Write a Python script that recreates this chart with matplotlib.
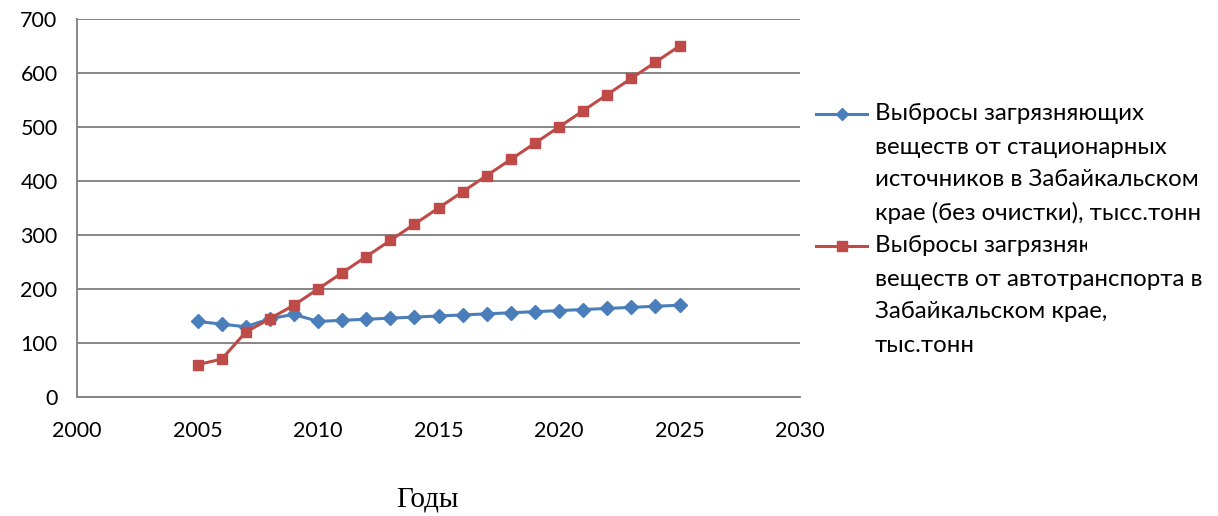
import matplotlib
matplotlib.use("Agg")
import matplotlib.pyplot as plt
from matplotlib.lines import Line2D
from matplotlib.transforms import Bbox

years = list(range(2005, 2026))
stationary = [140, 135, 130, 145, 153, 140, 142, 144, 146, 148, 150,
              152, 154, 156, 158, 160, 162, 164, 166, 168, 170]
transport = [60, 70, 120, 145, 170, 200, 230, 260, 290, 320, 350,
             380, 410, 440, 470, 500, 530, 560, 590, 620, 650]
x_ticks = [2000, 2005, 2010, 2015, 2020, 2025, 2030]
y_ticks = [0, 100, 200, 300, 400, 500, 600, 700]
label_stationary = ["Выбросы загрязняющих", "веществ от стационарных",
                    "источников в Забайкальском", "крае (без очистки), тысс.тонн"]
label_transport = ["Выбросы загрязняющих", "веществ от автотранспорта в",
                   "Забайкальском крае,", "тыс.тонн"]
x_title = "Годы"

BLUE = "#4A7EBB"
RED = "#BE4B48"
GRID = "#868686"
FONT = "Lato"

W, H = 1218, 516
fig = plt.figure(figsize=(W / 100, H / 100), dpi=100)
ax = fig.add_axes([77 / W, 1 - 397 / H, (800 - 77) / W, (397 - 19) / H])

ax.plot(years, stationary, color=BLUE, lw=2.2, marker="D", ms=7,
        markerfacecolor=BLUE, markeredgecolor=BLUE, zorder=3)
ax.plot(years, transport, color=RED, lw=2.2, marker="s", ms=7.5,
        markerfacecolor=RED, markeredgecolor=RED, zorder=4)

ax.set_xlim(2000, 2030)
ax.set_ylim(0, 700)
ax.set_xticks(x_ticks)
ax.set_yticks(y_ticks)
ax.yaxis.grid(True, color=GRID, lw=1.4)
ax.set_axisbelow(True)
for side in ("top", "right"):
    ax.spines[side].set_visible(False)
for side in ("left", "bottom"):
    ax.spines[side].set_color(GRID)
    ax.spines[side].set_linewidth(1.4)
ax.tick_params(axis="both", length=0, labelsize=15.5, colors="black")
ax.tick_params(axis="y", pad=14)
ax.tick_params(axis="x", pad=17)
for lab in ax.get_xticklabels() + ax.get_yticklabels():
    lab.set_fontfamily(FONT)

fig.text(427 / W, 1 - 500 / H, x_title, ha="center", va="center",
         fontsize=21, family="Liberation Serif")

# legend drawn by hand: marker sample lines and wrapped labels
row_y = [114, 147, 180, 213, 246, 279, 312, 345]
fig.add_artist(Line2D([816 / W, 867 / W], [1 - 114 / H] * 2, color=BLUE, lw=2.2,
                      transform=fig.transFigure))
fig.add_artist(Line2D([841.5 / W], [1 - 114 / H], color=BLUE, marker="D", ms=6,
                      transform=fig.transFigure))
fig.add_artist(Line2D([816 / W, 867 / W], [1 - 246 / H] * 2, color=RED, lw=2.2,
                      transform=fig.transFigure))
fig.add_artist(Line2D([841.5 / W], [1 - 246 / H], color=RED, marker="s", ms=7,
                      transform=fig.transFigure))

clip = Bbox.from_extents(0, 0, 1087, H)
for i, line in enumerate(label_stationary + label_transport):
    t = fig.text(875 / W, 1 - row_y[i] / H, line, ha="left", va="center",
                 fontsize=17.3, family=FONT)
    if i == 4:
        t.set_clip_box(clip)
        t.set_clip_on(True)

fig.savefig("out.png", dpi=100)
